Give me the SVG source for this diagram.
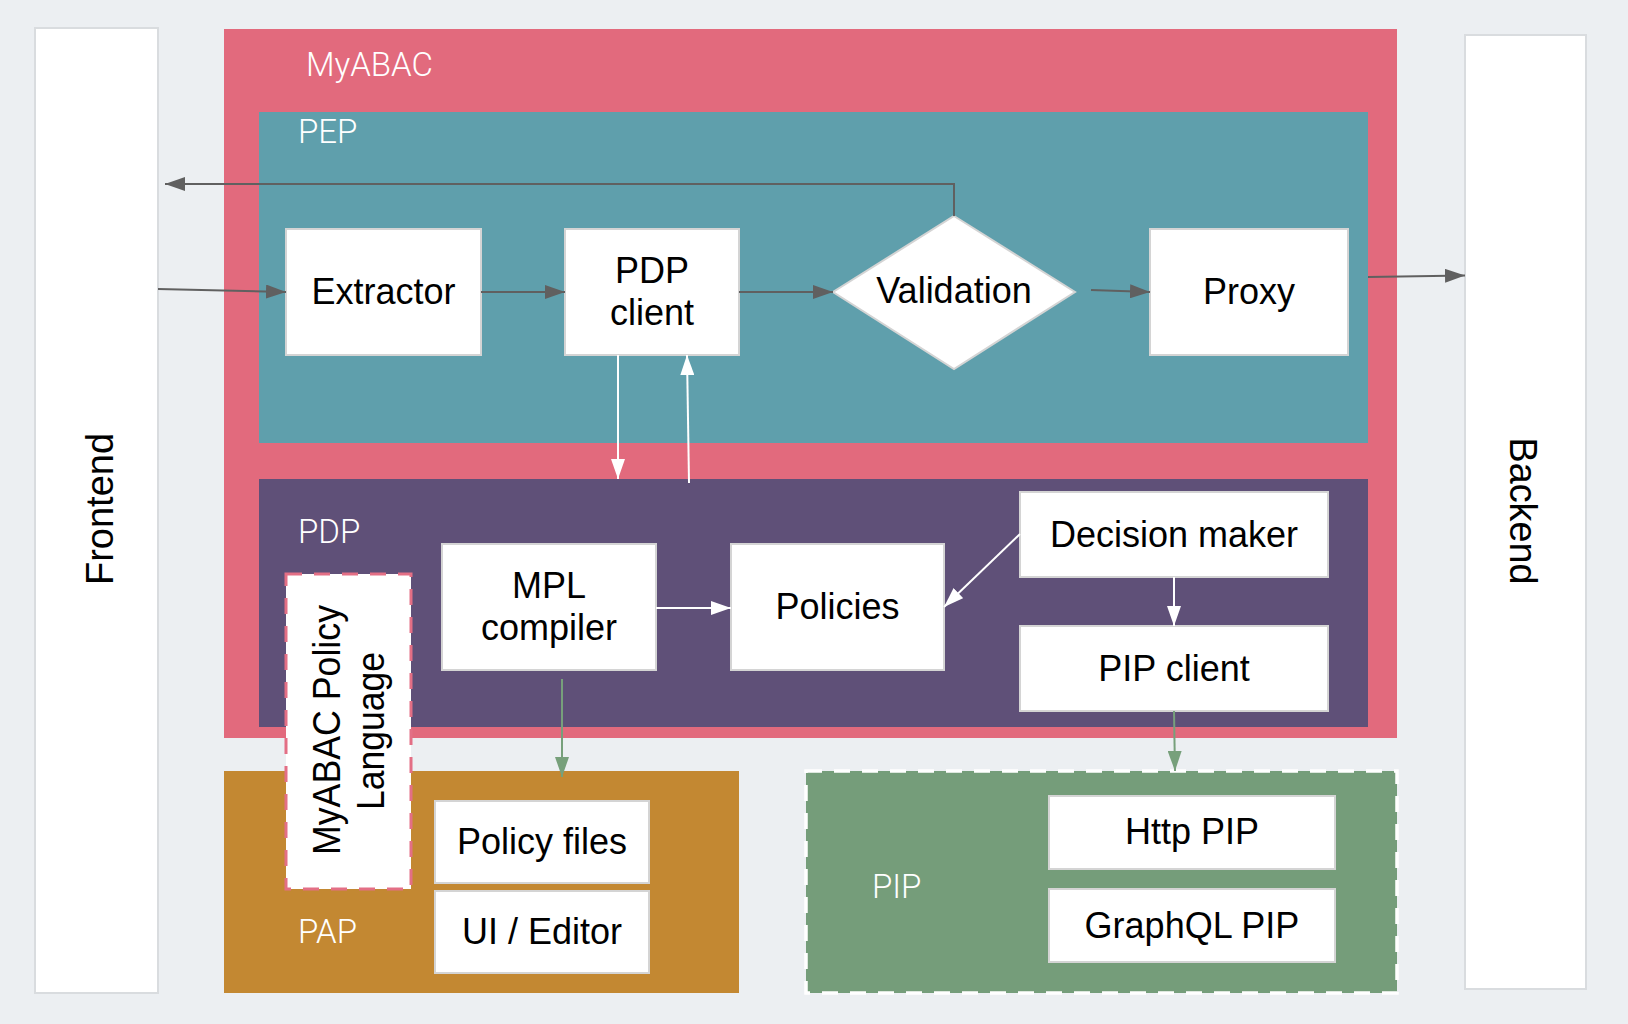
<svg xmlns="http://www.w3.org/2000/svg" width="1628" height="1024" viewBox="0 0 1628 1024">
<defs>
<style>
.bg{fill:#ECEFF2}
.side{fill:#FFFFFF;stroke:#D9DCDF;stroke-width:2}
.node{fill:#FFFFFF;stroke:#D4D4D4;stroke-width:2}
.lbl{font-family:"Liberation Sans",Arial,sans-serif;font-size:36px;fill:#000000;text-anchor:middle}
.grp{font-family:Roboto,"Liberation Sans",sans-serif;font-size:33px;font-weight:300;fill:#FFFFFF}
.rot{font-family:"Liberation Sans",Arial,sans-serif;font-size:38px;fill:#000000;text-anchor:middle}
.gray{fill:none;stroke:#606060;stroke-width:2}
.white{fill:none;stroke:#FFFFFF;stroke-width:2}
.green{fill:none;stroke:#77A07B;stroke-width:2}
</style>
<marker id="ag" markerUnits="userSpaceOnUse" markerWidth="20" markerHeight="14" refX="20" refY="7" orient="auto"><path d="M0,0 L20,7 L0,14 z" fill="#606060"/></marker>
<marker id="aw" markerUnits="userSpaceOnUse" markerWidth="20" markerHeight="14" refX="20" refY="7" orient="auto"><path d="M0,0 L20,7 L0,14 z" fill="#FFFFFF"/></marker>
<marker id="agr" markerUnits="userSpaceOnUse" markerWidth="20" markerHeight="14" refX="20" refY="7" orient="auto"><path d="M0,0 L20,7 L0,14 z" fill="#77A07B"/></marker>
</defs>
<rect class="bg" x="0" y="0" width="1628" height="1024"/>

<g id="frontend">
<rect class="side" x="35" y="28" width="123" height="965"/>
<text class="rot" transform="translate(113,509) rotate(-90)" textLength="152" lengthAdjust="spacingAndGlyphs">Frontend</text>
</g>
<g id="backend">
<rect class="side" x="1465" y="35" width="121" height="954"/>
<text class="rot" transform="translate(1510,511) rotate(90)" textLength="147" lengthAdjust="spacingAndGlyphs">Backend</text>
</g>

<g id="myabac">
<rect x="224" y="29" width="1173" height="709" fill="#E26A7D"/>
<text class="grp" x="306" y="76">MyABAC</text>
</g>
<g id="pep">
<rect x="259" y="112" width="1109" height="331" fill="#5F9FAC"/>
<text class="grp" x="298" y="143">PEP</text>
</g>
<g id="pdp">
<rect x="259" y="479" width="1109" height="248" fill="#5F5078"/>
<text class="grp" x="298" y="543">PDP</text>
</g>
<g id="pap">
<rect x="224" y="771" width="515" height="222" fill="#C38832"/>
<text class="grp" x="298" y="943">PAP</text>
</g>
<g id="pip">
<rect x="806" y="771" width="591" height="222" fill="#759D7A" stroke="#FFFFFF" stroke-width="3.5" stroke-dasharray="16 12"/>
<text class="grp" x="872" y="898">PIP</text>
</g>

<g id="extractor">
<rect class="node" x="286" y="229" width="195" height="126"/>
<text class="lbl" x="383.5" y="304">Extractor</text>
</g>
<g id="pdp-client">
<rect class="node" x="565" y="229" width="174" height="126"/>
<text class="lbl" x="652" y="283">PDP</text>
<text class="lbl" x="652" y="325">client</text>
</g>
<g id="validation">
<polygon class="node" points="954,216 1075,292 954,369 833,292"/>
<text class="lbl" x="954" y="303">Validation</text>
</g>
<g id="proxy">
<rect class="node" x="1150" y="229" width="198" height="126"/>
<text class="lbl" x="1249" y="304">Proxy</text>
</g>
<g id="decision-maker">
<rect class="node" x="1020" y="492" width="308" height="85"/>
<text class="lbl" x="1174" y="547">Decision maker</text>
</g>
<g id="policies">
<rect class="node" x="731" y="544" width="213" height="126"/>
<text class="lbl" x="837.5" y="619">Policies</text>
</g>
<g id="mpl-compiler">
<rect class="node" x="442" y="544" width="214" height="126"/>
<text class="lbl" x="549" y="598">MPL</text>
<text class="lbl" x="549" y="640">compiler</text>
</g>
<g id="pip-client">
<rect class="node" x="1020" y="626" width="308" height="85"/>
<text class="lbl" x="1174" y="681">PIP client</text>
</g>
<g id="policy-files">
<rect class="node" x="435" y="801" width="214" height="82"/>
<text class="lbl" x="542" y="854">Policy files</text>
</g>
<g id="ui-editor">
<rect class="node" x="435" y="891" width="214" height="82"/>
<text class="lbl" x="542" y="944">UI / Editor</text>
</g>
<g id="http-pip">
<rect class="node" x="1049" y="796" width="286" height="73"/>
<text class="lbl" x="1192" y="844">Http PIP</text>
</g>
<g id="graphql-pip">
<rect class="node" x="1049" y="889" width="286" height="73"/>
<text class="lbl" x="1192" y="938">GraphQL PIP</text>
</g>
<g id="mpl-language">
<rect x="286" y="574" width="125" height="315" fill="#FFFFFF" stroke="#E36F85" stroke-width="3" stroke-dasharray="16 12"/>
<text class="rot" transform="translate(340,730) rotate(-90)" textLength="250" lengthAdjust="spacingAndGlyphs">MyABAC Policy</text>
<text class="rot" transform="translate(384,731) rotate(-90)" textLength="158" lengthAdjust="spacingAndGlyphs">Language</text>
</g>

<g id="connectors">
<path class="gray" d="M158,289 L286,292" marker-end="url(#ag)"/>
<path class="gray" d="M481,292 L565,292" marker-end="url(#ag)"/>
<path class="gray" d="M739,292 L833,292" marker-end="url(#ag)"/>
<path class="gray" d="M1091,290 L1150,292" marker-end="url(#ag)"/>
<path class="gray" d="M1368,277 L1465,275.5" marker-end="url(#ag)"/>
<path class="gray" d="M954,216 L954,184 L165,184" marker-end="url(#ag)"/>
<path class="white" d="M618,355 L618,479" marker-end="url(#aw)"/>
<path class="white" d="M689,483 L687,355" marker-end="url(#aw)"/>
<path class="white" d="M656,608 L731,608" marker-end="url(#aw)"/>
<path class="white" d="M1020,534 L944,607" marker-end="url(#aw)"/>
<path class="white" d="M1174,577 L1174,626" marker-end="url(#aw)"/>
<path class="green" d="M562,679 L562,777" marker-end="url(#agr)"/>
<path class="green" d="M1174,711 L1175,771" marker-end="url(#agr)"/>
</g>
</svg>
